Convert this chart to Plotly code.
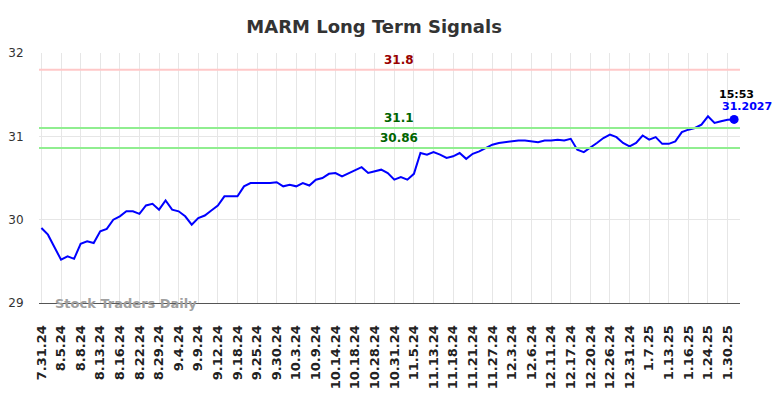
import plotly.graph_objects as go

title_text = "MARM Long Term Signals"
tick_labels = ["7.31.24", "8.5.24", "8.8.24", "8.13.24", "8.16.24", "8.22.24", "8.29.24",
               "9.4.24", "9.9.24", "9.12.24", "9.18.24", "9.25.24", "9.30.24", "10.3.24",
               "10.9.24", "10.14.24", "10.18.24", "10.28.24", "10.31.24", "11.5.24",
               "11.13.24", "11.18.24", "11.21.24", "11.27.24", "12.3.24", "12.6.24",
               "12.11.24", "12.17.24", "12.20.24", "12.26.24", "12.31.24", "1.7.25",
               "1.13.25", "1.16.25", "1.24.25", "1.30.25"]
tick_step = 3

prices = [29.90, 29.82, 29.67, 29.52, 29.56, 29.53, 29.71, 29.74, 29.72, 29.86,
          29.89, 30.00, 30.04, 30.10, 30.10, 30.07, 30.17, 30.19, 30.12, 30.23,
          30.12, 30.10, 30.04, 29.94, 30.02, 30.05, 30.11, 30.17, 30.28, 30.28,
          30.28, 30.40, 30.44, 30.44, 30.44, 30.44, 30.45, 30.40, 30.42, 30.40,
          30.44, 30.41, 30.48, 30.50, 30.55, 30.56, 30.52, 30.56, 30.60, 30.63,
          30.56, 30.58, 30.60, 30.56, 30.48, 30.51, 30.48, 30.55, 30.80, 30.78,
          30.81, 30.78, 30.74, 30.76, 30.80, 30.73, 30.79, 30.82, 30.86, 30.90,
          30.92, 30.93, 30.94, 30.95, 30.95, 30.94, 30.93, 30.95, 30.95, 30.96,
          30.95, 30.97, 30.84, 30.81, 30.86, 30.92, 30.98, 31.02, 30.99, 30.92,
          30.88, 30.92, 31.01, 30.96, 30.99, 30.91, 30.91, 30.94, 31.05, 31.08,
          31.10, 31.14, 31.24, 31.16, 31.18, 31.20, 31.2027]

signal_levels = [31.8, 31.1, 30.86]
signal_labels = ["31.8", "31.1", "30.86"]
last_time = "15:53"
last_value_label = "31.2027"
watermark = "Stock Traders Daily"

x_idx = list(range(len(prices)))
tickvals = [i * tick_step for i in range(len(tick_labels))]

line_colors = ["#ffc8c8", "#90ee90", "#90ee90"]
label_colors = ["#990000", "#006400", "#006400"]

# page body has a default 8px margin, so the figure is sized to fit the window
W, H = 776, 390

fig = go.Figure()
fig.add_trace(go.Scatter(x=x_idx, y=prices, mode="lines",
                         line=dict(color="#0000ff", width=2), hoverinfo="skip"))
fig.add_trace(go.Scatter(x=[x_idx[-1]], y=[prices[-1]], mode="markers",
                         marker=dict(color="#0000ff", size=9), hoverinfo="skip"))

for lvl, lab, lc, tc in zip(signal_levels, signal_labels, line_colors, label_colors):
    fig.add_shape(type="line", xref="paper", x0=0, x1=1, yref="y", y0=lvl, y1=lvl,
                  line=dict(color=lc, width=2), layer="above")
    fig.add_annotation(xref="paper", x=0.513, yref="y", y=lvl, text=lab,
                       showarrow=False, yanchor="bottom", yshift=1,
                       font=dict(family="DejaVu Sans", size=12, color=tc, weight="bold"))

fig.add_annotation(xref="x", x=x_idx[-1], yref="y", y=prices[-1], text=last_time,
                   showarrow=False, xanchor="center", yanchor="bottom", yshift=16, xshift=2,
                   font=dict(family="DejaVu Sans", size=11, color="#000000", weight="bold"))
fig.add_annotation(xref="x", x=x_idx[-1], yref="y", y=prices[-1], text=last_value_label,
                   showarrow=False, xanchor="center", yanchor="bottom", yshift=4, xshift=13,
                   font=dict(family="DejaVu Sans", size=11, color="#0000ff", weight="bold"))

fig.add_annotation(xref="paper", x=0.02, yref="y", y=29, text=watermark,
                   showarrow=False, xanchor="left", yanchor="middle",
                   font=dict(family="DejaVu Sans", size=13, color="#a0a0a0", weight="bold"))

fig.update_layout(
    width=W, height=H,
    margin=dict(l=31, r=44, t=45, b=95, pad=0, autoexpand=False),
    paper_bgcolor="#ffffff", plot_bgcolor="#ffffff",
    showlegend=False,
    title=dict(text=title_text, x=0.478, xref="paper", xanchor="center",
               y=1 - 19 / H, yref="container", yanchor="middle",
               font=dict(family="DejaVu Sans", size=18, color="#333333", weight="bold")),
)
fig.update_xaxes(range=[-0.37, 106.9], tickmode="array", tickvals=tickvals,
                 ticktext=tick_labels, tickangle=-90, automargin=False,
                 tickfont=dict(family="DejaVu Sans", size=13, color="#222222", weight="bold"),
                 showgrid=True, gridcolor="#e6e6e6", gridwidth=1,
                 ticks="outside", ticklen=16, tickcolor="rgba(0,0,0,0)",
                 showline=True, linecolor="#555555", linewidth=1, zeroline=False)
fig.update_yaxes(range=[29, 32], tickvals=[29, 30, 31, 32], ticktext=["29", "30", "31", "32"],
                 automargin=False,
                 tickfont=dict(family="DejaVu Sans", size=12, color="#333333"),
                 showgrid=True, gridcolor="#e6e6e6", gridwidth=1,
                 ticks="outside", ticklen=12, tickcolor="rgba(0,0,0,0)",
                 showline=False, zeroline=False)

fig.write_html("out.html")
